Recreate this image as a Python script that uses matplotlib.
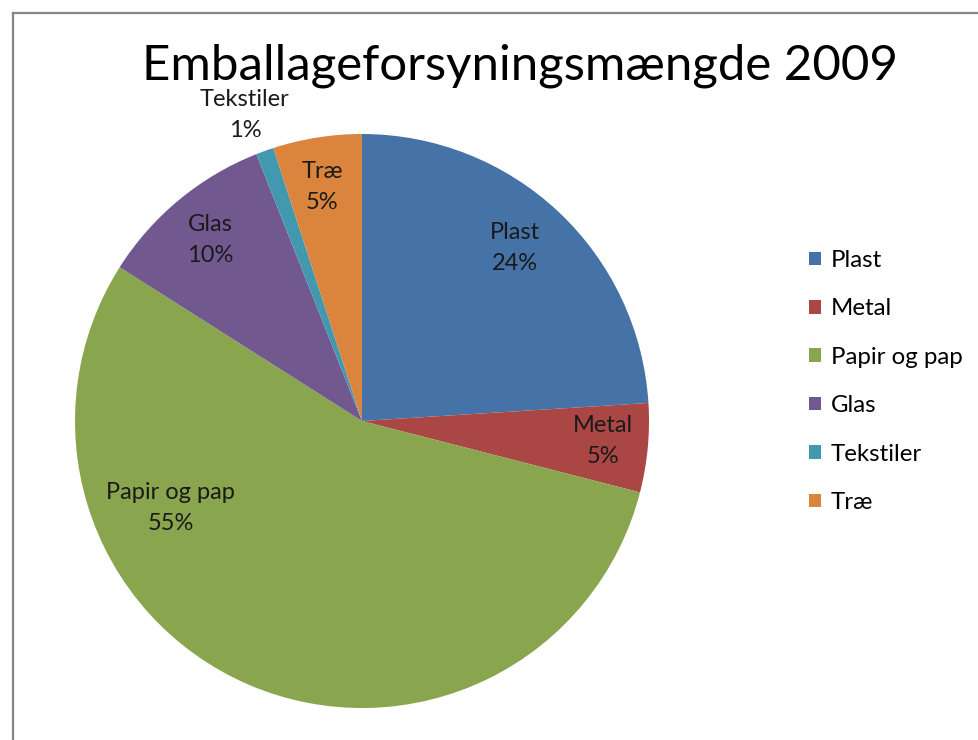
import matplotlib.pyplot as plt
from matplotlib.lines import Line2D
from matplotlib.patches import Patch

plt.rcParams['font.family'] = ['Lato', 'DejaVu Sans']

categories = ['Plast', 'Metal', 'Papir og pap', 'Glas', 'Tekstiler', 'Træ']
values = [24, 5, 55, 10, 1, 5]
colors = ['#4572A7', '#AA4643', '#89A54E', '#71588F', '#4198AF', '#DB843D']
label_text = ['Plast\n24%', 'Metal\n5%', 'Papir og pap\n55%', 'Glas\n10%', 'Tekstiler\n1%', 'Træ\n5%']
# label centres in units of the pie radius (Excel "best fit" placement)
label_pos = [(0.533, 0.603), (0.840, -0.070), (-0.666, -0.303),
             (-0.530, 0.631), (-0.408, 1.066), (-0.139, 0.815)]

W, H = 979, 740
fig = plt.figure(figsize=(W / 100, H / 100), dpi=100)

# chart area frame (only top and left edges visible in the crop)
fig.add_artist(Line2D([13 / W, 13 / W], [0, 1 - 13 / H], transform=fig.transFigure,
                      color='#868686', lw=1.6))
fig.add_artist(Line2D([13 / W, 1], [1 - 13 / H, 1 - 13 / H], transform=fig.transFigure,
                      color='#868686', lw=1.6))

cx, cy, r = 362, 421, 287
ax = fig.add_axes([(cx - r) / W, (H - cy - r) / H, 2 * r / W, 2 * r / H])
ax.pie(values, colors=colors, startangle=90, counterclock=False,
       wedgeprops={'linewidth': 0})
ax.set_xlim(-1, 1)
ax.set_ylim(-1, 1)
ax.set_aspect('equal')
ax.axis('off')

for txt, (x, y) in zip(label_text, label_pos):
    ax.text(x, y, txt, ha='center', va='center', fontsize=17,
            color='#1a1a1a', linespacing=1.6)

fig.text(520 / W, 1 - 66 / H, 'Emballageforsyningsmængde 2009', ha='center',
         va='center', fontsize=35.4, color='black')

handles = [Patch(facecolor=c, edgecolor='none') for c in colors]
fig.legend(handles, categories, loc='upper left', bbox_to_anchor=(809 / W, 1 - 250 / H),
           frameon=False, fontsize=17.3, handlelength=0.5, handleheight=0.5,
           handletextpad=0.4, labelspacing=1.14, borderpad=0, borderaxespad=0)

fig.savefig('out.png', dpi=100)
